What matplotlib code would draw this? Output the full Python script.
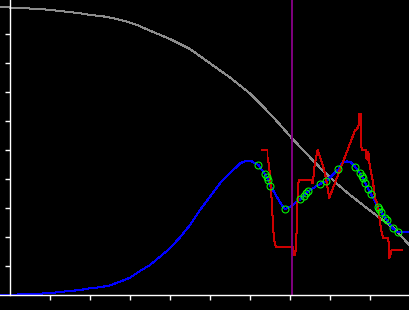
import numpy as np
import matplotlib
matplotlib.use('Agg')
import matplotlib.pyplot as plt

# gray curve (falling)
gray_x = [-0.25, 0.25, 0.7, 1.05, 1.3, 1.55, 1.75, 2.075, 2.325, 2.675, 2.925, 3.175,
          3.5, 4.0, 4.5, 5.0, 5.5, 6.0, 6.325, 6.7, 7.05, 7.45, 7.825, 8.2, 8.5, 8.9,
          9.25, 9.6, 10.0]
gray_y = [9.93, 9.897, 9.862, 9.828, 9.783, 9.748, 9.714, 9.645, 9.61, 9.517, 9.424, 9.31,
          9.114, 8.828, 8.483, 7.99, 7.5, 6.95, 6.5, 5.95, 5.4, 4.82, 4.28, 3.8, 3.45,
          3.02, 2.65, 2.3, 1.7]

# blue curve
blue_x = [-0.25, 0.625, 1.075, 1.425, 1.75, 2.0, 2.25, 2.5, 2.75, 3.0, 3.25, 3.5, 3.75,
          4.0, 4.25, 4.5, 4.75, 5.0, 5.25, 5.5, 5.75, 5.875, 6.04, 6.21, 6.375, 6.42,
          6.46, 6.51, 6.67, 6.79, 6.88, 7.0, 7.125, 7.26, 7.35, 7.4, 7.46, 7.75, 7.91,
          8.21, 8.29, 8.42, 8.525, 8.625, 8.75, 8.79, 8.83, 8.875, 8.96, 9.025, 9.19,
          9.225, 9.275, 9.375, 9.42, 9.57, 9.69, 10.0]
blue_y = [0.0, 0.034, 0.079, 0.128, 0.172, 0.231, 0.266, 0.334, 0.459, 0.597, 0.828,
          1.034, 1.321, 1.61, 1.99, 2.414, 2.931, 3.39, 3.852, 4.197, 4.541, 4.61, 4.61,
          4.483, 4.172, 4.059, 3.966, 3.769, 3.39, 3.103, 2.955, 3.045, 3.162, 3.3, 3.424,
          3.507, 3.586, 3.828, 3.931, 4.334, 4.541, 4.61, 4.576, 4.431, 4.19, 4.114, 4.024,
          3.872, 3.655, 3.483, 3.045, 2.966, 2.872, 2.666, 2.586, 2.3, 2.162, 2.155]

# green circles
pts_x = [6.21, 6.375, 6.42, 6.46, 6.51, 6.88, 7.26, 7.35, 7.4, 7.46, 7.75, 7.91, 8.21,
         8.625, 8.75, 8.79, 8.83, 8.875, 8.96, 9.025, 9.19, 9.225, 9.275, 9.375, 9.42,
         9.57, 9.69]
pts_y = [4.483, 4.172, 4.059, 3.966, 3.769, 2.955, 3.3, 3.424, 3.507, 3.586, 3.828,
         3.931, 4.334, 4.431, 4.19, 4.114, 4.024, 3.872, 3.655, 3.483, 3.045, 2.966,
         2.872, 2.666, 2.586, 2.3, 2.162]

# red line
red_x = [6.2875, 6.4375, 6.4375, 6.475, 6.5, 6.525, 6.55, 6.575, 6.6, 6.65, 7.08, 7.1,
         7.125, 7.15, 7.175, 7.2, 7.225, 7.54, 7.55, 7.575, 7.6, 7.64, 7.69, 7.75, 7.8,
         7.875, 7.98, 8.625, 8.67, 8.71, 8.73, 8.77, 8.78, 8.79, 8.89, 8.91, 8.94, 8.96,
         8.99, 9.04, 9.075, 9.125, 9.17, 9.21, 9.25, 9.29, 9.325, 9.46, 9.475, 9.5, 9.54,
         9.79]
red_y = [5.0, 5.0, 4.724, 4.483, 4.138, 3.621, 3.103, 2.414, 1.897, 1.655, 1.655, 1.379,
         1.379, 1.655, 2.586, 3.793, 3.966, 3.966, 3.862, 3.862, 4.31, 4.655, 5.0, 4.759,
         4.552, 4.207, 3.345, 5.672, 5.724, 5.793, 6.241, 6.241, 5.345, 5.0, 5.0, 4.724,
         4.655, 4.931, 4.483, 4.138, 3.897, 3.345, 3.207, 2.931, 2.483, 2.172, 1.966,
         1.966, 1.276, 1.31, 1.552, 1.552]

vline_x = 7.05

fig = plt.figure(figsize=(4.1, 3.1), dpi=100, facecolor='black')
ax = fig.add_axes([0, 15 / 310, 1, 295 / 310])
ax.set_facecolor('black')

ax.plot(gray_x, gray_y, color='#8c8c8c', lw=0.72, antialiased=False)
ax.plot(blue_x, blue_y, color='#0000ff', lw=0.72, antialiased=False)
ax.plot(red_x, red_y, color='#cc0000', lw=0.72, antialiased=False)
ax.plot(pts_x, pts_y, 'o', ms=5, mfc='none', mec='#00ff00', mew=0.75)
ax.axvline(vline_x, color='#800080', lw=1.4)

ax.set_xlim(-0.25, 10)
ax.set_ylim(0, 295 / 29)
ax.spines['left'].set_position(('data', 0))
ax.spines['top'].set_visible(False)
ax.spines['right'].set_visible(False)
for s in ['left', 'bottom']:
    ax.spines[s].set_color('white')
    ax.spines[s].set_linewidth(1.0)
ax.set_xticks(range(1, 10))
ax.set_yticks(range(1, 10))
ax.tick_params(colors='white', direction='out', length=3.5, width=1,
               labelleft=False, labelbottom=False)

fig.savefig('out.png', dpi=100, facecolor='black')
